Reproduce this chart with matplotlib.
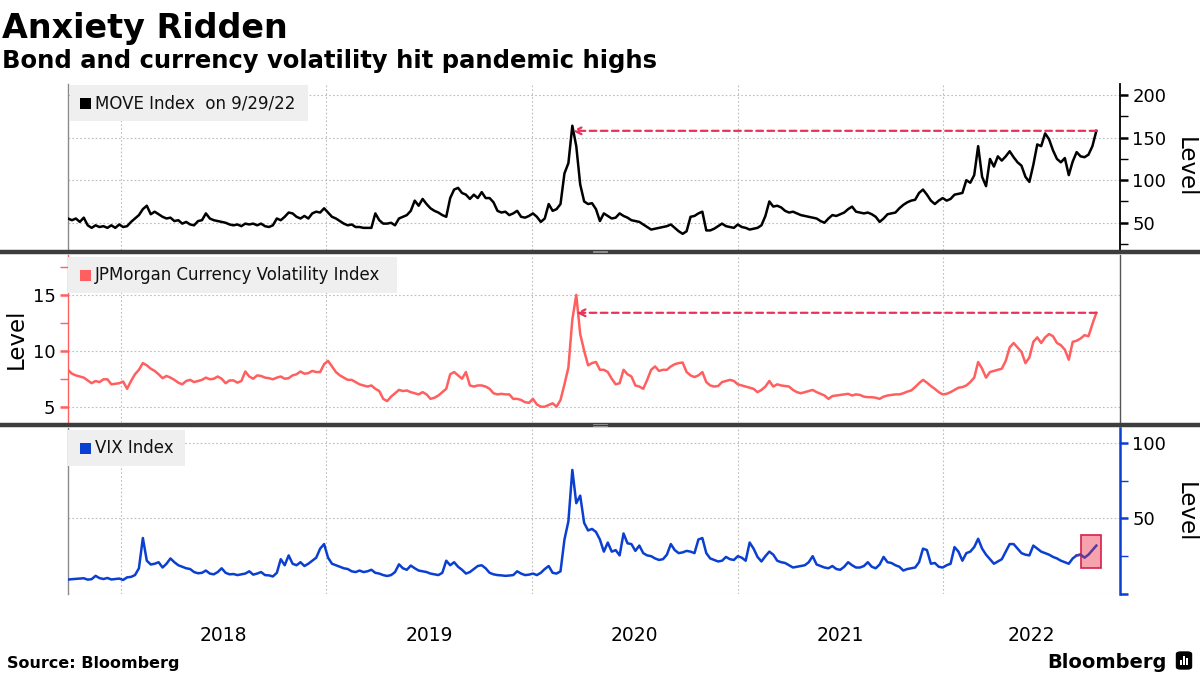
import matplotlib
matplotlib.use("Agg")
import matplotlib.pyplot as plt
import matplotlib.dates as mdates
import numpy as np
import pandas as pd
from matplotlib.patches import Rectangle, FancyBboxPatch
from matplotlib.ticker import MultipleLocator, FixedLocator

# ---------------- data (weekly, 2017-09-29 .. 2022-09-30) ----------------
start_date = "2017-09-29"

move_index = [
    55, 53, 55, 51, 56, 47, 44, 47, 45, 46,
    44, 47, 44, 48, 45, 46, 51, 55, 59, 66,
    70, 60, 63, 60, 57, 55, 56, 52, 53, 49,
    51, 48, 47, 52, 53, 61, 55, 53, 52, 51,
    50, 48, 47, 48, 46, 49, 48, 49, 47, 49,
    46, 45, 47, 55, 53, 57, 62, 61, 57, 55,
    58, 55, 61, 63, 62, 67, 62, 57, 55, 52,
    49, 47, 48, 45, 45, 44, 44, 44, 61, 53,
    49, 49, 50, 47, 55, 57, 59, 64, 76, 70,
    78, 72, 67, 64, 62, 59, 57, 79, 89, 91,
    85, 83, 78, 83, 79, 86, 79, 79, 74, 64,
    62, 63, 59, 61, 64, 57, 56, 58, 61, 57,
    51, 55, 72, 64, 66, 72, 108, 120, 164, 140,
    95, 75, 72, 73, 66, 52,
    61, 58, 55, 56, 61, 58, 56, 53, 52, 51,
    48, 45, 42, 43, 44, 45, 46, 48, 44, 40,
    37, 40, 57, 58, 61, 63, 41, 41, 43, 46,
    49, 46, 45, 44, 48, 45, 44, 42, 43, 44,
    47, 58, 75, 69, 70, 68, 64, 62, 63, 61,
    59, 58, 57, 56, 55, 52, 50, 55, 59, 58,
    60, 62, 66, 69, 63, 62, 61, 62, 60, 57,
    51, 55, 60, 61, 62, 67, 71, 74, 76, 77,
    85, 89, 83, 76, 72, 76, 79, 76, 78, 83,
    84, 85, 100, 97, 106, 140, 104, 93, 125, 116,
    128, 123, 128, 134, 127, 121, 117, 104, 98, 118,
    142, 140, 155, 148, 135, 125, 121, 126, 106, 122,
    133, 128, 127, 130, 140, 158,
]

jpm_fx_vol = [
    8.3, 7.95, 7.8, 7.7, 7.6, 7.35, 7.1, 7.3, 7.2, 7.45,
    7.45, 7.0, 7.05, 7.1, 7.25, 6.6, 7.3, 7.9, 8.3, 8.9,
    8.7, 8.4, 8.2, 7.9, 7.55, 7.75, 7.6, 7.4, 7.15, 7.0,
    7.3, 7.4, 7.2, 7.3, 7.4, 7.6, 7.45, 7.5, 7.7, 7.5,
    7.1, 7.35, 7.35, 7.15, 7.3, 8.15, 7.7, 7.5, 7.8, 7.75,
    7.6, 7.55, 7.45, 7.6, 7.7, 7.5, 7.55, 7.8, 7.9, 8.15,
    7.95, 8.0, 8.2, 8.1, 8.1, 8.8, 9.1, 8.6, 8.1, 7.8,
    7.6, 7.4, 7.4, 7.2, 7.0, 6.9, 6.8, 6.9, 6.6, 6.4,
    5.7, 5.5, 5.9, 6.2, 6.5, 6.4, 6.45, 6.3, 6.2, 6.1,
    6.3, 6.1, 5.7, 5.8, 6.0, 6.3, 6.6, 7.9, 8.1, 7.8,
    7.5, 8.1, 6.9, 6.8, 6.9, 6.9, 6.8, 6.6, 6.2, 6.1,
    6.15, 6.1, 6.1, 5.7, 5.7, 5.6, 5.4, 5.35, 5.7, 5.2,
    5.0, 5.0, 5.15, 5.3, 5.0, 5.6, 7.0, 8.5, 12.8, 15.0,
    11.5, 10.0, 8.7, 8.9, 9.0, 8.3,
    8.3, 8.1, 7.5, 7.0, 7.1, 8.3, 7.9, 7.7, 6.9, 6.8,
    6.6, 7.4, 8.3, 8.6, 8.2, 8.3, 8.3, 8.6, 8.8, 8.9,
    8.95, 8.1, 7.8, 7.65, 7.8, 8.1, 7.2, 6.9, 6.8, 6.85,
    7.2, 7.3, 7.4, 7.3, 7.0, 6.9, 6.8, 6.7, 6.6, 6.3,
    6.5, 6.8, 7.3, 6.8, 7.0, 6.9, 6.85, 6.8, 6.5, 6.3,
    6.2, 6.3, 6.4, 6.5, 6.3, 6.15, 6.0, 5.7, 5.95, 6.0,
    6.05, 6.1, 6.15, 6.0, 6.1, 6.05, 5.9, 5.85, 5.85, 5.8,
    5.7, 5.9, 6.0, 6.05, 6.1, 6.1, 6.2, 6.35, 6.45, 6.75,
    7.1, 7.4, 7.15, 6.85, 6.6, 6.3, 6.1, 6.15, 6.3, 6.5,
    6.7, 6.75, 6.9, 7.2, 7.6, 9.0, 8.4, 7.6, 8.1, 8.2,
    8.3, 8.4, 9.1, 10.3, 10.7, 10.3, 9.9, 8.9, 9.4, 10.8,
    11.2, 10.7, 11.2, 11.5, 11.3, 10.7, 10.5, 10.1, 9.2, 10.8,
    10.9, 11.1, 11.4, 11.3, 12.4, 13.4,
]

vix_index = [
    9.5, 9.8, 10.0, 10.2, 10.4, 9.5, 9.8, 12.0, 10.5, 9.9,
    10.6, 9.6, 9.9, 10.2, 9.3, 11.0, 11.3, 12.5, 17, 37,
    22, 19.5, 20, 21, 17.5, 20, 23.5, 21, 19, 18,
    17, 16.5, 14.5, 13.7, 14, 15.5, 13.5, 13, 14.5, 17,
    14, 13, 13.2, 12.5, 13, 13.5, 15, 12.8, 13.5, 14.5,
    12.5, 12.3, 11.6, 14, 23, 19, 25.5, 20, 19, 21,
    18.5, 20, 22, 24, 30, 33, 24, 20, 19, 18,
    17, 16.5, 15, 14.5, 15.5, 14.5, 15, 16, 14, 13.5,
    12.5, 11.9, 12.5, 14.5, 19.6, 17, 16, 18.8, 17, 15.5,
    15, 14.5, 13.5, 13, 12.5, 14, 22, 19, 21, 18,
    16, 13.5, 14.5, 16.5, 18.5, 19, 17, 14, 13, 12.5,
    12.3, 12, 12.2, 12.5, 15, 13.5, 12.5, 12.8, 13.5, 12.5,
    14, 16.5, 18.5, 14, 13.5, 15, 36, 48, 82, 60,
    65, 47, 42, 43, 41, 36,
    28, 34, 28, 29, 25.5, 40, 33.5, 33, 28.5, 32,
    27, 25.5, 25, 23.5, 22.5, 23, 26, 33, 29, 27,
    27.5, 28.5, 28, 27, 36, 37, 27, 23.5, 22.5, 21.5,
    22, 24.5, 23, 22.5, 25, 24, 22, 34, 30, 24.5,
    21.5, 25, 28, 26, 22, 21, 20.5, 19, 17.5, 18,
    18.5, 19, 21, 25, 19.5, 18.5, 17.5, 17, 18.5, 16.5,
    16, 18, 21, 19, 17.5, 17.5, 18.5, 21, 18, 17,
    19.5, 24.5, 21, 20.5, 19, 18, 15.5, 16.5, 17, 17.5,
    21, 30, 29, 20, 20.5, 18, 17.5, 19, 20, 31,
    28, 22, 27, 28, 31, 36.5, 30, 26, 23, 20,
    21.5, 23, 28, 33, 33, 30, 27, 26, 25.5, 32,
    30, 28, 27, 26, 24.5, 23.5, 22, 21, 20, 23.5,
    25.5, 26, 24, 26, 29, 32,
]

year_labels = ["2018", "2019", "2020", "2021", "2022"]
x_start, x_end = "2017-09-29", "2022-11-11"
highlight_start, highlight_end = "2022-09-02", "2022-10-09"
highlight_low, highlight_high = 17, 39

dates = pd.date_range(start_date, periods=len(move_index), freq="7D")

# ---------------- styling ----------------
plt.rcParams["font.family"] = ["DejaVu Sans"]
W_PX, H_PX = 1200, 675
BLACK = "#000000"
SALMON = "#ff5f5f"
BLUE = "#0a3fd1"
ARROW = "#e8325a"
GRID = "#bdbdbd"

fig = plt.figure(figsize=(12, 6.75), dpi=100)


def px_axes(x0, y0, x1, y1):
    return fig.add_axes([x0 / W_PX, 1 - y1 / H_PX, (x1 - x0) / W_PX, (y1 - y0) / H_PX])


def fig_rect(x0, y0, x1, y1, **kw):
    r = Rectangle((x0 / W_PX, 1 - y1 / H_PX), (x1 - x0) / W_PX, (y1 - y0) / H_PX,
                  transform=fig.transFigure, **kw)
    fig.add_artist(r)
    return r


ax1 = px_axes(68, 84, 1120, 250)
ax2 = px_axes(68, 255, 1120, 422)
ax3 = px_axes(68, 428, 1120, 594)

xlim = (pd.Timestamp(x_start), pd.Timestamp(x_end))
year_starts = [pd.Timestamp(f"{y}-01-01") for y in year_labels]

for ax in (ax1, ax2, ax3):
    ax.set_xlim(*xlim)
    ax.set_facecolor("white")
    ax.xaxis.set_major_locator(FixedLocator(mdates.date2num(year_starts)))
    ax.tick_params(axis="x", length=0, labelbottom=False)
    ax.grid(True, which="major", color=GRID, linestyle=(0, (1.5, 2)), linewidth=0.8)
    ax.set_axisbelow(True)
    ax.spines["top"].set_visible(False)
    ax.spines["bottom"].set_visible(False)

# --- top: MOVE
ax1.plot(dates, move_index, color=BLACK, lw=1.8, zorder=3)
ax1.set_ylim(18, 213)
ax1.yaxis.tick_right()
ax1.yaxis.set_major_locator(FixedLocator([50, 100, 150, 200]))
ax1.yaxis.set_minor_locator(FixedLocator([25, 75, 125, 175]))
ax1.tick_params(axis="y", which="major", length=6, width=1.8, color=BLACK, pad=3, labelsize=13)
ax1.tick_params(axis="y", which="minor", length=6, width=1.0, color=BLACK)
ax1.spines["right"].set_color(BLACK)
ax1.spines["right"].set_linewidth(1.3)
ax1.spines["left"].set_color("#8a8a8a")
ax1.spines["left"].set_linewidth(1.0)
ax1.text(1.0618, 0.5, "Level", transform=ax1.transAxes, rotation=270,
         ha="center", va="center", fontsize=16.5)

# --- middle: JPM FX vol
ax2.plot(dates, jpm_fx_vol, color=SALMON, lw=1.8, zorder=3)
ax2.set_ylim(3.63, 18.57)
ax2.yaxis.set_major_locator(FixedLocator([5, 10, 15]))
ax2.yaxis.set_minor_locator(MultipleLocator(2.5))
ax2.tick_params(axis="y", which="major", length=6, width=1.8, color=SALMON, pad=3, labelsize=13)
ax2.tick_params(axis="y", which="minor", length=6, width=1.0, color=SALMON)
ax2.spines["left"].set_color(SALMON)
ax2.spines["left"].set_linewidth(1.0)
ax2.spines["right"].set_color("#555555")
ax2.spines["right"].set_linewidth(1.0)
ax2.text(-0.0494, 0.497, "Level", transform=ax2.transAxes, rotation=90,
         ha="center", va="center", fontsize=16.5)

# --- bottom: VIX
ax3.plot(dates, vix_index, color=BLUE, lw=1.8, zorder=3)
hl = dates >= pd.Timestamp(highlight_start)
hl_idx = np.where(hl)[0]
ax3.plot(dates[hl_idx[0] - 1:], vix_index[hl_idx[0] - 1:], color="#5a3a9e", lw=1.8, zorder=5)
ax3.add_patch(Rectangle((mdates.date2num(pd.Timestamp(highlight_start)), highlight_low),
                        mdates.date2num(pd.Timestamp(highlight_end)) - mdates.date2num(pd.Timestamp(highlight_start)),
                        highlight_high - highlight_low,
                        facecolor="#f7a3ae", edgecolor="#d81f4b", lw=1.2, zorder=4))
ax3.set_ylim(0, 109.7)
ax3.yaxis.tick_right()
ax3.yaxis.set_major_locator(FixedLocator([0, 50, 100]))
ax3.yaxis.set_major_formatter(plt.FuncFormatter(lambda v, p: "" if v == 0 else f"{v:.0f}"))
ax3.yaxis.set_minor_locator(FixedLocator([25, 75]))
ax3.tick_params(axis="y", which="major", length=6, width=1.8, color=BLUE, pad=3, labelsize=13)
ax3.tick_params(axis="y", which="minor", length=6, width=1.0, color=BLUE)
ax3.spines["right"].set_color(BLUE)
ax3.spines["right"].set_linewidth(1.8)
ax3.spines["left"].set_color("#8a8a8a")
ax3.spines["left"].set_linewidth(1.0)
ax3.text(1.0618, 0.494, "Level", transform=ax3.transAxes, rotation=270,
         ha="center", va="center", fontsize=16.5)

# --- dashed arrows from latest value back to the pandemic peak
for ax, series in ((ax1, move_index), (ax2, jpm_fx_vol)):
    peak_date = dates[int(np.argmax(series))]
    last_val = series[-1]
    ax.annotate("", xy=(peak_date, last_val), xytext=(dates[-1], last_val),
                arrowprops=dict(arrowstyle="->", color=ARROW, lw=1.6,
                                linestyle=(0, (3, 2)), shrinkA=0, shrinkB=0,
                                mutation_scale=12),
                zorder=6)

# --- year labels under the bottom panel
x0n, x1n = mdates.date2num(xlim[0]), mdates.date2num(xlim[1])
for lab in year_labels:
    a = max(mdates.date2num(pd.Timestamp(f"{lab}-01-01")), x0n)
    b = min(mdates.date2num(pd.Timestamp(f"{int(lab) + 1}-01-01")), x1n)
    ax3.text((a + b) / 2, -0.247, lab, transform=ax3.get_xaxis_transform(),
             ha="center", va="center", fontsize=13.5)

# --- legend boxes
legend_specs = [
    (70, 85, 308, 121, BLACK, "MOVE Index  on 9/29/22"),
    (68, 257, 397, 293, SALMON, "JPMorgan Currency Volatility Index"),
    (68, 430, 185, 466, BLUE, "VIX Index"),
]
for x0, y0, x1, y1, col, txt in legend_specs:
    fig_rect(x0, y0, x1, y1, facecolor="#efefef", edgecolor="none", zorder=5)
    yc = (y0 + y1) / 2
    fig_rect(80, yc - 5.5, 91, yc + 5.5, facecolor=col, edgecolor="none", zorder=6)
    fig.text(95 / W_PX, 1 - yc / H_PX, txt, ha="left", va="center",
             fontsize=12, color="#111111", zorder=6)

# --- panel separators
for y in (251.5, 425):
    fig.add_artist(plt.Line2D([0, 1], [1 - y / H_PX] * 2, transform=fig.transFigure,
                              color="#3d3d3d", lw=3.2, zorder=7))
    fig.add_artist(plt.Line2D([593 / W_PX, 607 / W_PX], [1 - (y - 1) / H_PX] * 2,
                              transform=fig.transFigure, color="#9a9a9a", lw=0.6, zorder=8))
    fig.add_artist(plt.Line2D([593 / W_PX, 607 / W_PX], [1 - (y + 1) / H_PX] * 2,
                              transform=fig.transFigure, color="#9a9a9a", lw=0.6, zorder=8))

# --- titles and footer
fig.text(2 / W_PX, 1 - 38 / H_PX, "Anxiety Ridden", fontsize=24, fontweight="bold",
         ha="left", va="baseline")
fig.text(2 / W_PX, 1 - 68 / H_PX, "Bond and currency volatility hit pandemic highs",
         fontsize=17.5, fontweight="bold", ha="left", va="baseline")
fig.text(7 / W_PX, 1 - 668 / H_PX, "Source: Bloomberg", fontsize=11.5, fontweight="bold",
         ha="left", va="baseline")
fig.text(1167 / W_PX, 1 - 668 / H_PX, "Bloomberg", fontsize=14, fontweight="bold",
         ha="right", va="baseline")
logo = FancyBboxPatch((1177 / W_PX, 1 - 669 / H_PX), 14 / W_PX, 17 / H_PX,
                      boxstyle="round,pad=0.001,rounding_size=0.004",
                      transform=fig.transFigure, facecolor="black", edgecolor="none")
fig.add_artist(logo)
for i, h in enumerate((5, 9, 7)):
    fig_rect(1180 + i * 3.2, 665 - h, 1181.8 + i * 3.2, 665, facecolor="white", edgecolor="none")

fig.savefig("out.png", dpi=100, facecolor="white")
